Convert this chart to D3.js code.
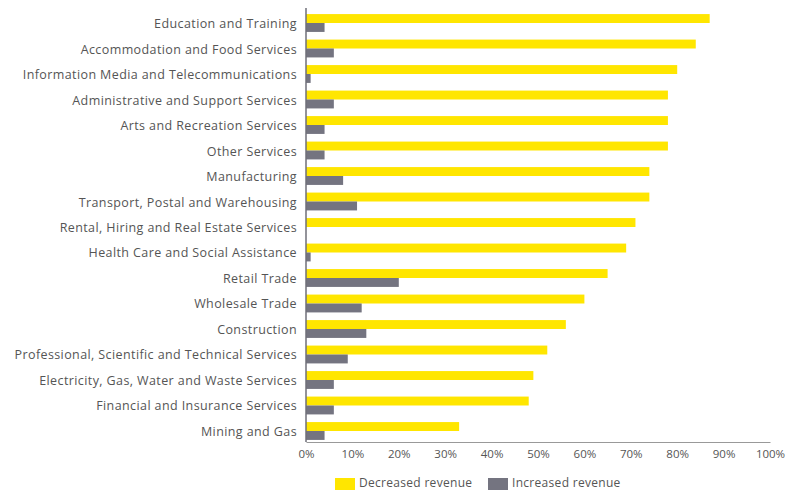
<!DOCTYPE html>
<html><head><meta charset="utf-8">
<script src="https://cdn.jsdelivr.net/npm/d3@7"></script>
<style>body{margin:0;background:#fff}svg{display:block}</style>
</head><body><svg id="c" width="787" height="491"></svg>
<script>
const categories = ["Education and Training","Accommodation and Food Services","Information Media and Telecommunications","Administrative and Support Services","Arts and Recreation Services","Other Services","Manufacturing","Transport, Postal and Warehousing","Rental, Hiring and Real Estate Services","Health Care and Social Assistance","Retail Trade","Wholesale Trade","Construction","Professional, Scientific and Technical Services","Electricity, Gas, Water and Waste Services","Financial and Insurance Services","Mining and Gas"];
const decreased = [87,84,80,78,78,78,74,74,71,69,65,60,56,52,49,48,33];
const increased = [4,6,1,6,4,4,8,11,0,1,20,12,13,9,6,6,4];
const tickValues = [0,10,20,30,40,50,60,70,80,90,100];
const seriesNames = ["Decreased revenue","Increased revenue"];
const colors = ["#FFE600","#747480"];

const svg = d3.select("#c");
const font = "'Open Sans', 'Noto Sans', sans-serif";
const x = d3.scaleLinear().domain([0,100]).range([306,770]);
const y = d3.scaleBand().domain(categories).range([10,444]).paddingInner(0.3).paddingOuter(0.16);
const sub = d3.scaleBand().domain([0,1]).range([0,y.bandwidth()]);

const g = svg.append("g");
categories.forEach((c,i)=>{
  [decreased[i], increased[i]].forEach((v,s)=>{
    g.append("rect").attr("x",x(0)).attr("y",y(c)+sub(s)).attr("width",x(v)-x(0)).attr("height",sub.bandwidth())
     .attr("fill",colors[s]);
  });
});

// y labels
const ya = svg.append("g").attr("transform",`translate(${x(0)},0)`).call(d3.axisLeft(y).tickSize(0).tickPadding(9));
ya.select(".domain").attr("stroke","#6f6f78").attr("stroke-width",1.5).attr("d","M0,8V442");
ya.selectAll("text").attr("font-family",font).attr("font-size",12.5).attr("letter-spacing",0.4).attr("fill","#555").attr("dy","0.4em");

// x axis
const xa = svg.append("g").attr("transform","translate(0,442)").call(d3.axisBottom(x).tickValues(tickValues).tickSize(0).tickPadding(8).tickFormat(d=>d+"%"));
xa.select(".domain").attr("stroke","#999").attr("stroke-width",1);
xa.selectAll("text").attr("font-family",font).attr("font-size",11.5).attr("fill","#555");

// legend
const leg = svg.append("g");
const lx = [335,488];
seriesNames.forEach((n,i)=>{
  leg.append("rect").attr("x",lx[i]).attr("y",478).attr("width",20).attr("height",12).attr("fill",colors[i]);
  leg.append("text").attr("x",lx[i]+24).attr("y",487).attr("font-family",font).attr("font-size",12).attr("letter-spacing",0.3).attr("fill","#555").text(n);
});
</script></body></html>
